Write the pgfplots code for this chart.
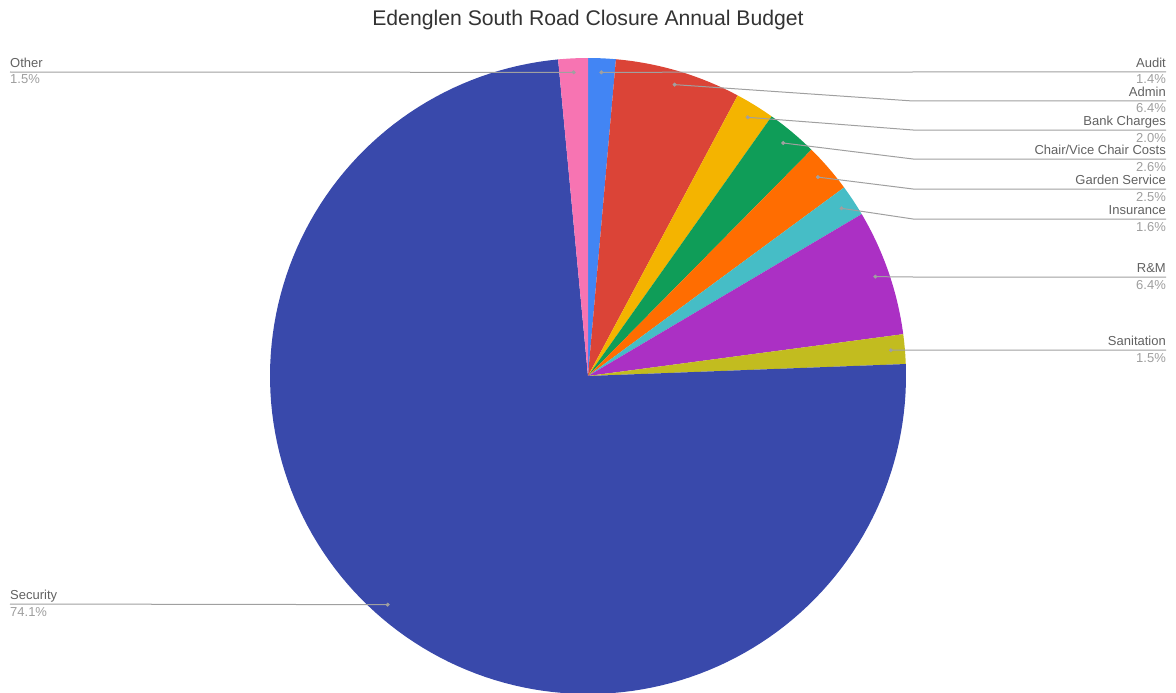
\documentclass[border=0pt]{standalone}
\usepackage{pgfplots}
\usepackage{pgfplotstable}
\pgfplotsset{compat=1.18}
\usepackage{fontspec}
\setmainfont{Liberation Sans}

% slice colours, in table order
\definecolor{pie0}{HTML}{4285F4}
\definecolor{pie1}{HTML}{DB4437}
\definecolor{pie2}{HTML}{F4B400}
\definecolor{pie3}{HTML}{0F9D58}
\definecolor{pie4}{HTML}{FF6D01}
\definecolor{pie5}{HTML}{46BDC6}
\definecolor{pie6}{HTML}{AB30C4}
\definecolor{pie7}{HTML}{C2BC1F}
\definecolor{pie8}{HTML}{3949AB}
\definecolor{pie9}{HTML}{F774B2}
\definecolor{leader}{HTML}{A0A0A0}
\definecolor{namegray}{HTML}{616161}
\definecolor{pctgray}{HTML}{9E9E9E}
\definecolor{titlegray}{HTML}{333333}

% share in percent, y of the label line, side (1 = right, 0 = left)
\pgfplotstableread[col sep=comma]{
name,pct,ly,side
Audit,1.4,72,1
Admin,6.4,101,1
Bank Charges,2.0,130,1
Chair/Vice Chair Costs,2.6,159,1
Garden Service,2.5,189,1
Insurance,1.6,219,1
R\&M,6.4,277,1
Sanitation,1.5,350,1
Security,74.1,604,0
Other,1.5,72,0
}\piedata

\begin{document}
\begin{tikzpicture}
\begin{axis}[
    at={(0,0)}, anchor=south west,
    scale only axis,
    width=1176pt, height=693pt,
    xmin=0, xmax=1176, ymin=0, ymax=693,
    y dir=reverse,
    hide axis,
    clip=false,
]
\def\cx{588}\def\cy{376}\def\R{318}\def\Rd{304}
\def\lbl{\noexpand\fontsize{13}{15}\noexpand\selectfont}

% wedges, clockwise from 12 o'clock
\def\astart{0}
\pgfplotsforeachungrouped \i in {0,...,9}{%
    \pgfplotstablegetelem{\i}{pct}\of\piedata
    \let\pct=\pgfplotsretval
    \pgfmathsetmacro\aend{\astart+3.6*\pct}
    \edef\temp{\noexpand\addplot[fill=pie\i, draw=none, domain=\astart:\aend,
        samples=150, variable=\noexpand\t]
        ({\cx+\R*sin(\noexpand\t)},{\cy-\R*cos(\noexpand\t)})
        -- (axis cs:\cx,\cy) -- cycle;}
    \temp
    \let\astart=\aend
}

% leader lines, dots and labels
\def\astart{0}
\pgfplotsforeachungrouped \i in {0,...,9}{%
    \pgfplotstablegetelem{\i}{pct}\of\piedata \let\pct=\pgfplotsretval
    \pgfplotstablegetelem{\i}{name}\of\piedata \let\nm=\pgfplotsretval
    \pgfplotstablegetelem{\i}{ly}\of\piedata \let\ly=\pgfplotsretval
    \pgfplotstablegetelem{\i}{side}\of\piedata \let\side=\pgfplotsretval
    \pgfmathsetmacro\amid{\astart+1.8*\pct}
    \pgfmathsetmacro\aend{\astart+3.6*\pct}
    \pgfmathsetmacro\dx{\cx+\Rd*sin(\amid)}
    \pgfmathsetmacro\dy{\cy-\Rd*cos(\amid)}
    \pgfmathsetmacro\ya{\ly-4.5}
    \pgfmathsetmacro\yb{\ly+12}
    \ifnum\side=1
        \edef\temp{\noexpand\addplot[leader, line width=1pt] coordinates
            {(\dx,\dy) (913,\ly) (1166,\ly)};
            \noexpand\node[anchor=base east, inner sep=0pt, text=namegray,
                font=\lbl] at (axis cs:1166,\ya) {\nm};
            \noexpand\node[anchor=base east, inner sep=0pt, text=pctgray,
                font=\lbl] at (axis cs:1166,\yb) {\pct\noexpand\%};}
    \else
        \edef\temp{\noexpand\addplot[leader, line width=1pt] coordinates
            {(\dx,\dy) (10,\ly)};
            \noexpand\node[anchor=base west, inner sep=0pt, text=namegray,
                font=\lbl] at (axis cs:10,\ya) {\nm};
            \noexpand\node[anchor=base west, inner sep=0pt, text=pctgray,
                font=\lbl] at (axis cs:10,\yb) {\pct\noexpand\%};}
    \fi
    \temp
    \edef\temp{\noexpand\addplot[only marks, mark=*, mark size=1.8pt,
        color=leader] coordinates {(\dx,\dy)};}
    \temp
    \let\astart=\aend
}

\node[anchor=base, inner sep=0pt, text=titlegray,
    font=\fontsize{21.2}{25}\selectfont]
    at (axis cs:588,26) {Edenglen South Road Closure Annual Budget};
\end{axis}
\pgfresetboundingbox
\useasboundingbox (0,0) rectangle (1176pt,693pt);
\end{tikzpicture}
\end{document}
